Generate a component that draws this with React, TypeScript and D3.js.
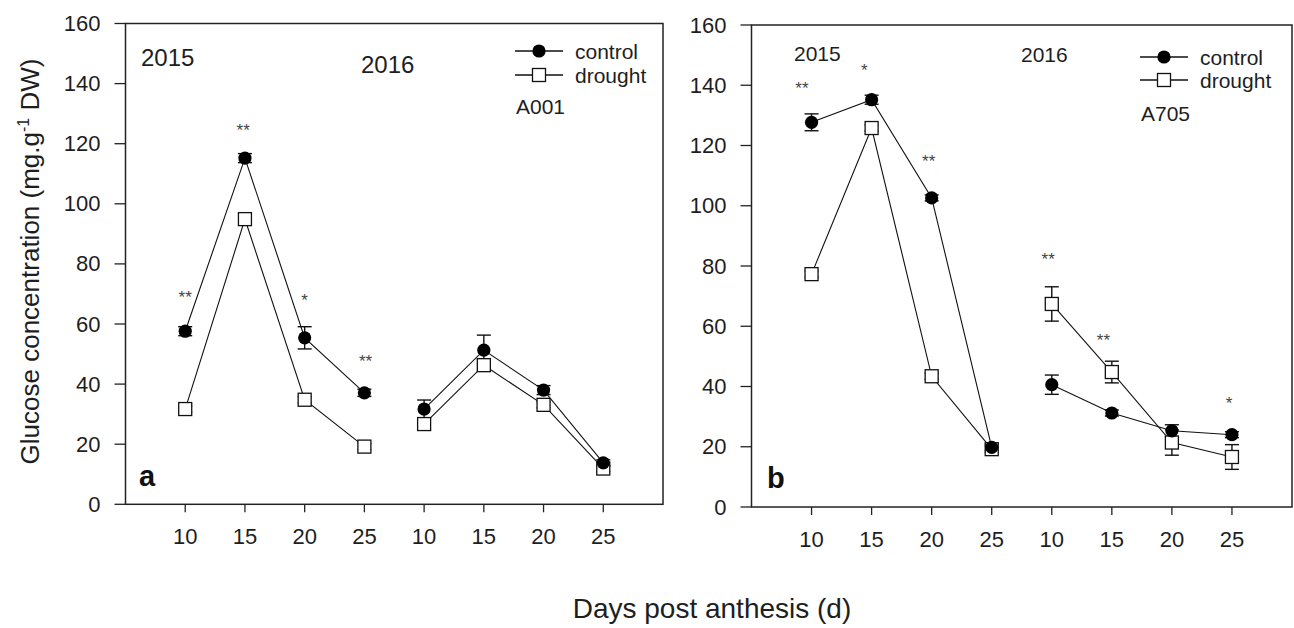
import React from "react";
import * as d3 from "d3";

const W = 1294;
const H = 628;

const xLabels = ["10", "15", "20", "25", "10", "15", "20", "25"];
const yTicks = [0, 20, 40, 60, 80, 100, 120, 140, 160];

// Panel a (A001)
const aControl = [57.6, 115.2, 55.4, 37.1, 31.7, 51.3, 38.0, 13.8];
const aControlErr = [1.5, 1.5, 3.7, 1.2, 3.0, 5.0, 1.5, 1.0];
const aDrought = [31.7, 94.9, 34.8, 19.2, 26.7, 46.3, 33.1, 11.9];
const aDroughtErr = [1.0, 1.0, 1.0, 1.0, 2.0, 2.0, 1.0, 1.0];
const aStars = [
  { x: 0, v: 70, t: "**" },
  { x: 0.97, v: 125.5, t: "**" },
  { x: 2, v: 69, t: "*" },
  { x: 3.02, v: 48.8, t: "**" },
];

// Panel b (A705)
const bControl = [127.7, 135.2, 102.6, 19.8, 40.6, 31.2, 25.3, 24.0];
const bControlErr = [2.8, 1.5, 1.0, 1.0, 3.2, 1.0, 2.0, 1.0];
const bDrought = [77.3, 125.8, 43.4, 19.2, 67.4, 44.8, 21.4, 16.6];
const bDroughtErr = [1.0, 1.0, 1.0, 1.0, 5.7, 3.6, 4.2, 4.1];
const bStars = [
  { x: 0 - 0.16, v: 140, t: "**" },
  { x: 1 - 0.12, v: 146, t: "*" },
  { x: 2 - 0.05, v: 116, t: "**" },
  { x: 4 - 0.06, v: 83.4, t: "**" },
  { x: 5 - 0.14, v: 56.5, t: "**" },
  { x: 7 - 0.05, v: 35.5, t: "*" },
];

const FONT = "'Liberation Sans', Arial, sans-serif";
const TXT = "#1e1e1e";

type PanelProps = {
  left: number;
  right: number;
  top: number;
  bottom: number;
  control: number[];
  controlErr: number[];
  drought: number[];
  droughtErr: number[];
  stars: { x: number; v: number; t: string }[];
  letter: string;
  letterPos: [number, number];
  years: { label: string; x: number; y: number }[];
  yearSize: number;
  legendX: number;
  legendY: number;
  legendGap: number;
  cultivar: string;
  cultivarY: number;
};

function Panel(p: PanelProps) {
  const x = d3.scaleLinear().domain([-1, 8]).range([p.left, p.right]);
  const y = d3.scaleLinear().domain([0, 160]).range([p.bottom, p.top]);
  const groups = [
    [0, 1, 2, 3],
    [4, 5, 6, 7],
  ];
  const seg = (vals: number[], g: number[]) =>
    d3
      .line<number>()
      .x((i) => x(i))
      .y((i) => y(vals[i]))(g) || "";
  const capW = 7;
  const errBars = (vals: number[], errs: number[], key: string) =>
    vals.map((v, i) => {
      const cx = x(i);
      const y1 = y(v + errs[i]);
      const y0 = y(v - errs[i]);
      return (
        <g key={key + i} stroke="#111" strokeWidth={1.4}>
          <line x1={cx} x2={cx} y1={y0} y2={y1} />
          <line x1={cx - capW} x2={cx + capW} y1={y1} y2={y1} />
          <line x1={cx - capW} x2={cx + capW} y1={y0} y2={y0} />
        </g>
      );
    });
  const sq = 13;
  const lx = p.legendX;
  return (
    <g fontFamily={FONT}>
      <rect
        x={p.left}
        y={p.top}
        width={p.right - p.left}
        height={p.bottom - p.top}
        fill="none"
        stroke="#222"
        strokeWidth={1.5}
      />
      {yTicks.map((t) => (
        <g key={"yt" + t}>
          <line x1={p.left - 11} x2={p.left} y1={y(t)} y2={y(t)} stroke="#222" strokeWidth={1.3} />
          <text
            x={p.left - 25}
            y={y(t)}
            textAnchor="end"
            dominantBaseline="central"
            fontSize={22}
            fill={TXT}
          >
            {t}
          </text>
        </g>
      ))}
      {xLabels.map((l, i) => (
        <g key={"xt" + i}>
          <line x1={x(i)} x2={x(i)} y1={p.bottom} y2={p.bottom + 8} stroke="#222" strokeWidth={1.3} />
          <text x={x(i)} y={p.bottom + 40} textAnchor="middle" fontSize={22} fill={TXT}>
            {l}
          </text>
        </g>
      ))}
      {groups.map((g, gi) => (
        <g key={"ln" + gi} fill="none" stroke="#111" strokeWidth={1.1}>
          <path d={seg(p.control, g)} />
          <path d={seg(p.drought, g)} />
        </g>
      ))}
      {errBars(p.control, p.controlErr, "ec")}
      {errBars(p.drought, p.droughtErr, "ed")}
      {p.drought.map((v, i) => (
        <rect
          key={"sq" + i}
          x={x(i) - sq / 2}
          y={y(v) - sq / 2}
          width={sq}
          height={sq}
          fill="#fff"
          stroke="#111"
          strokeWidth={1.3}
        />
      ))}
      {p.control.map((v, i) => (
        <circle key={"ci" + i} cx={x(i)} cy={y(v)} r={6.6} fill="#000" />
      ))}
      {p.stars.map((s, i) => (
        <text
          key={"st" + i}
          x={x(s.x)}
          y={y(s.v) + 9}
          textAnchor="middle"
          fontSize={17}
          fill="#444"
        >
          {s.t}
        </text>
      ))}
      {p.years.map((yr) => (
        <text key={yr.label} x={yr.x} y={yr.y} fontSize={p.yearSize} fill={TXT}>
          {yr.label}
        </text>
      ))}
      <g>
        <line x1={lx} x2={lx + 48} y1={p.legendY} y2={p.legendY} stroke="#111" strokeWidth={1.3} />
        <circle cx={lx + 24} cy={p.legendY} r={6.6} fill="#000" />
        <text x={lx + 60} y={p.legendY} dominantBaseline="central" fontSize={21} fill={TXT}>
          control
        </text>
        <line
          x1={lx}
          x2={lx + 48}
          y1={p.legendY + p.legendGap}
          y2={p.legendY + p.legendGap}
          stroke="#111"
          strokeWidth={1.3}
        />
        <rect
          x={lx + 24 - sq / 2}
          y={p.legendY + p.legendGap - sq / 2}
          width={sq}
          height={sq}
          fill="#fff"
          stroke="#111"
          strokeWidth={1.3}
        />
        <text
          x={lx + 60}
          y={p.legendY + p.legendGap}
          dominantBaseline="central"
          fontSize={21}
          fill={TXT}
        >
          drought
        </text>
        <text x={lx + 1} y={p.cultivarY} dominantBaseline="central" fontSize={21} fill={TXT}>
          {p.cultivar}
        </text>
      </g>
      <text x={p.letterPos[0]} y={p.letterPos[1]} fontSize={29} fontWeight="bold" fill="#111">
        {p.letter}
      </text>
    </g>
  );
}

export default function App() {
  return (
    <svg
      width={W}
      height={H}
      style={{ display: "block", position: "absolute", left: 0, top: 0, background: "#fff" }}
    >
      <rect x={0} y={0} width={W} height={H} fill="#fff" />
      <Panel
        left={125.5}
        right={663}
        top={23.5}
        bottom={504.3}
        control={aControl}
        controlErr={aControlErr}
        drought={aDrought}
        droughtErr={aDroughtErr}
        stars={aStars}
        letter="a"
        letterPos={[139, 486]}
        years={[
          { label: "2015", x: 141, y: 66 },
          { label: "2016", x: 361, y: 73 },
        ]}
        yearSize={24}
        legendX={515}
        legendY={51}
        legendGap={24}
        cultivar="A001"
        cultivarY={106}
      />
      <Panel
        left={751.5}
        right={1292}
        top={25}
        bottom={507}
        control={bControl}
        controlErr={bControlErr}
        drought={bDrought}
        droughtErr={bDroughtErr}
        stars={bStars}
        letter="b"
        letterPos={[767, 488]}
        years={[
          { label: "2015", x: 794, y: 61 },
          { label: "2016", x: 1021, y: 62 },
        ]}
        yearSize={21}
        legendX={1140}
        legendY={57}
        legendGap={23}
        cultivar="A705"
        cultivarY={113}
      />
      <text
        transform="translate(38.5,261.5) rotate(-90)"
        textAnchor="middle"
        fontFamily={FONT}
        fontSize={26}
        fill={TXT}
      >
        Glucose concentration (mg.g
        <tspan dy={-10} fontSize={16}>
          -1
        </tspan>
        <tspan dy={10}> DW)</tspan>
      </text>
      <text x={712} y={618} textAnchor="middle" fontFamily={FONT} fontSize={28} fill={TXT}>
        Days post anthesis (d)
      </text>
    </svg>
  );
}
